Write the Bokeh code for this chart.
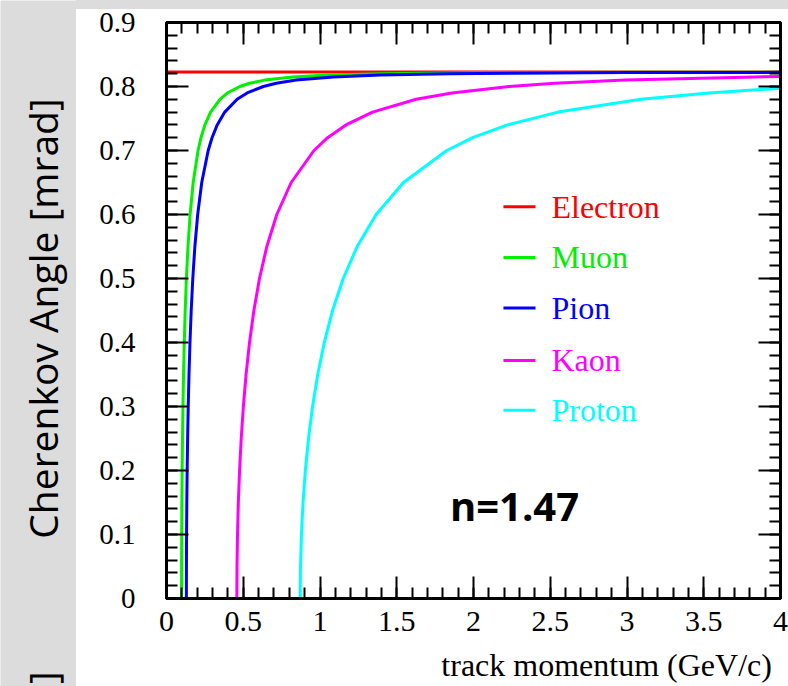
import math
from bokeh.plotting import figure
from bokeh.layouts import row, column
from bokeh.models import Range1d, LinearAxis, FixedTicker, Label
from bokeh.core.properties import value
from bokeh.embed import file_html
from bokeh.resources import INLINE

# ---------------- data ----------------
electron_p = [0.0, 4.0]
electron_theta = [0.8227, 0.8227]

muon_p = [0.0981, 0.0983, 0.0990, 0.1002, 0.1019, 0.1042, 0.1072, 0.1110, 0.1158,
          0.1218, 0.1296, 0.1399, 0.1538, 0.1738, 0.2056, 0.2246, 0.2501, 0.2872,
          0.3481, 0.3979, 0.4778, 0.5413, 0.6394, 0.8220, 1.0541, 1.3950, 2.0, 3.0, 4.0]
muon_theta = [0.0, 0.05, 0.10, 0.15, 0.20, 0.25, 0.30, 0.35, 0.40,
              0.45, 0.50, 0.55, 0.60, 0.65, 0.70, 0.72, 0.74, 0.76,
              0.78, 0.79, 0.80, 0.805, 0.81, 0.815, 0.818, 0.820, 0.8214, 0.8221, 0.8224]

pion_p = [0.1295, 0.1298, 0.1308, 0.1323, 0.1346, 0.1376, 0.1416, 0.1466, 0.1529,
          0.1609, 0.1713, 0.1848, 0.2032, 0.2296, 0.2716, 0.2966, 0.3304, 0.3794,
          0.4599, 0.5256, 0.6311, 0.7150, 0.8446, 1.0858, 1.3924, 1.8427, 3.0, 4.0]
pion_theta = [0.0, 0.05, 0.10, 0.15, 0.20, 0.25, 0.30, 0.35, 0.40,
              0.45, 0.50, 0.55, 0.60, 0.65, 0.70, 0.72, 0.74, 0.76,
              0.78, 0.79, 0.80, 0.805, 0.81, 0.815, 0.818, 0.820, 0.8217, 0.8221]

kaon_p = [0.4582, 0.4593, 0.4625, 0.4680, 0.4760, 0.4868, 0.5007, 0.5184, 0.5408,
          0.5693, 0.6057, 0.6536, 0.7186, 0.8122, 0.9607, 1.0493, 1.1688, 1.3421,
          1.6266, 1.8592, 2.2324, 2.5291, 2.9873, 3.8407, 4.0]
kaon_theta = [0.0, 0.05, 0.10, 0.15, 0.20, 0.25, 0.30, 0.35, 0.40,
              0.45, 0.50, 0.55, 0.60, 0.65, 0.70, 0.72, 0.74, 0.76,
              0.78, 0.79, 0.80, 0.805, 0.81, 0.815, 0.8156]

proton_p = [0.8708, 0.8729, 0.8790, 0.8895, 0.9047, 0.9251, 0.9516, 0.9853, 1.0279,
            1.0819, 1.1513, 1.2422, 1.3658, 1.5436, 1.8258, 1.9942, 2.2213, 2.5507,
            3.0915, 3.5336, 4.0]
proton_theta = [0.0, 0.05, 0.10, 0.15, 0.20, 0.25, 0.30, 0.35, 0.40,
                0.45, 0.50, 0.55, 0.60, 0.65, 0.70, 0.72, 0.74, 0.76,
                0.78, 0.79, 0.7972]

legend_names = ["Electron", "Muon", "Pion", "Kaon", "Proton"]
series_colors = ["#ff0000", "#00f000", "#0000ff", "#ff00ff", "#00ffff"]

x_tick_values = [0, 0.5, 1, 1.5, 2, 2.5, 3, 3.5, 4]
x_tick_labels = ["0", "0.5", "1", "1.5", "2", "2.5", "3", "3.5", "4"]
y_tick_values = [0, 0.1, 0.2, 0.3, 0.4, 0.5, 0.6, 0.7, 0.8, 0.9]
y_tick_labels = ["0", "0.1", "0.2", "0.3", "0.4", "0.5", "0.6", "0.7", "0.8", "0.9"]

annotation_text = "n=1.47"
x_title = "track momentum (GeV/c)"
y_title = "Cherenkov Angle [mrad]"

GRAY = "#dcdcdc"
TOTAL_W, TOTAL_H = 788, 686
TOP_H, LEFT_W = 9, 76
MAIN_W = TOTAL_W - LEFT_W
BOTTOM_H = 40
MAIN_H = TOTAL_H - BOTTOM_H


def strip(width, height, fill):
    f = figure(width=width, height=height, output_backend="svg", toolbar_location=None,
               x_range=Range1d(0, 1), y_range=Range1d(0, 1),
               x_axis_type=None, y_axis_type=None, min_border=0,
               min_border_left=0, min_border_right=0, min_border_top=0, min_border_bottom=0)
    f.background_fill_color = fill
    f.border_fill_color = fill
    f.outline_line_color = None
    f.xgrid.visible = False
    f.ygrid.visible = False
    return f


# ---------------- left gray strip with the rotated y title ----------------
left = strip(LEFT_W, TOTAL_H, GRAY)
left.text(x=[0.553], y=[0.5364], text=[y_title], angle=math.pi / 2,
          text_font=value("Open Sans"), text_font_size="39px", text_color="black",
          text_align="center", text_baseline="middle")
# clipped bracket fragment at the bottom of the gray strip
left.text(x=[0.553], y=[0.0131], text=["]"], angle=math.pi / 2,
          text_font=value("Open Sans"), text_font_size="39px", text_color="black",
          text_align="center", text_baseline="middle")

# ---------------- bottom strip with the x title ----------------
bottom = strip(MAIN_W, BOTTOM_H, "white")
bottom.text(x=[0.986], y=[0.545], text=[x_title],
            text_font=value("Liberation Serif"), text_font_size="32px", text_color="black",
            text_align="right", text_baseline="middle")

# ---------------- main plot ----------------
p = figure(width=MAIN_W, height=MAIN_H, output_backend="svg", toolbar_location=None,
           x_range=Range1d(0, 4), y_range=Range1d(0, 0.9),
           x_axis_type=None, y_axis_type=None,
           min_border_left=90, min_border_right=8, min_border_top=22, min_border_bottom=48)
p.border_fill_color = None
p.styles = {"background": "linear-gradient(to bottom, %s 0px, %s %dpx, #ffffff %dpx, #ffffff 100%%)"
                          % (GRAY, GRAY, TOP_H, TOP_H)}
p.background_fill_color = "white"
p.outline_line_color = "black"
p.outline_line_width = 3
p.xgrid.visible = False
p.ygrid.visible = False

x_minor = [i * 0.1 for i in range(0, 41)]
y_minor = [i * 0.02 for i in range(0, 46)]


def make_axis(kind, labels_on):
    ax = LinearAxis()
    vals, labs = (x_tick_values, x_tick_labels) if kind == "x" else (y_tick_values, y_tick_labels)
    ax.ticker = FixedTicker(ticks=vals, minor_ticks=(x_minor if kind == "x" else y_minor))
    if labels_on:
        ax.major_label_overrides = {v: s for v, s in zip(vals, labs)}
    else:
        ax.major_label_overrides = {v: "" for v in vals}
        ax.major_label_standoff = 0
    ax.axis_line_color = "black"
    ax.axis_line_width = 3
    ax.major_tick_in = 22
    ax.major_tick_out = 0
    ax.minor_tick_in = 11
    ax.minor_tick_out = 0
    ax.major_tick_line_width = 2
    ax.minor_tick_line_width = 2
    ax.major_tick_line_color = "black"
    ax.minor_tick_line_color = "black"
    return ax


xb = make_axis("x", True)
xb.major_label_text_font = "Liberation Serif"
xb.major_label_text_font_size = "30px"
xb.major_label_text_color = "black"
xb.major_label_standoff = 13
p.add_layout(xb, "below")

yl = make_axis("y", True)
yl.major_label_text_font = "Liberation Serif"
yl.major_label_text_font_size = "29px"
yl.major_label_text_color = "black"
yl.major_label_standoff = 31
p.add_layout(yl, "left")

p.add_layout(make_axis("x", False), "above")
p.add_layout(make_axis("y", False), "right")

# ---------------- curves ----------------
series = [(electron_p, electron_theta), (muon_p, muon_theta), (pion_p, pion_theta),
          (kaon_p, kaon_theta), (proton_p, proton_theta)]
for (xs, ys), col in zip(series, series_colors):
    p.line(xs, ys, line_color=col, line_width=3)

# ---------------- legend (manual, coloured text) ----------------
leg_y = [0.612, 0.533, 0.454, 0.372, 0.294]
p.segment(x0=[2.195] * 5, y0=leg_y, x1=[2.404] * 5, y1=leg_y,
          line_color=series_colors, line_width=3)
p.text(x=[2.508] * 5, y=leg_y, text=legend_names, text_color=series_colors,
       text_font=value("Liberation Serif"), text_font_size="32px",
       text_baseline="middle", text_align="left")

# ---------------- annotation ----------------
p.add_layout(Label(x=2.267, y=0.146, text=annotation_text, text_font="Open Sans",
                   text_font_style="bold", text_font_size="40px", text_color="black",
                   text_align="center", text_baseline="middle"))

layout = row(left, column(p, bottom, spacing=0), spacing=0)

open("out.html", "w").write(file_html(layout, INLINE))
